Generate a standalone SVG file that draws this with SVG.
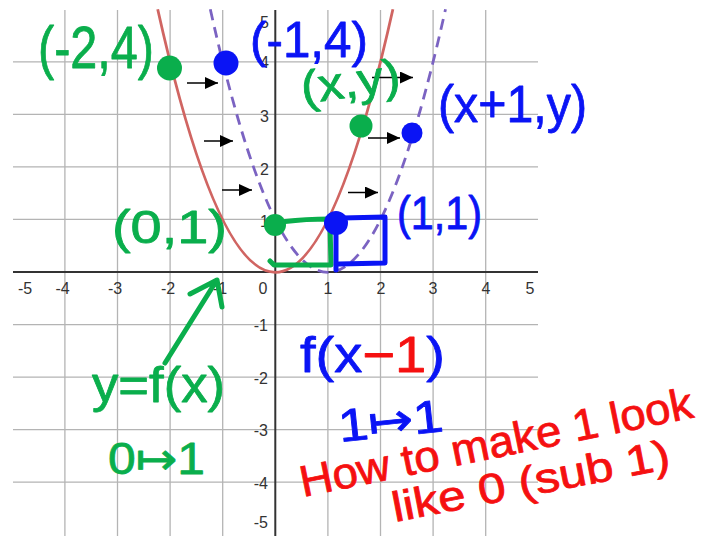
<svg xmlns="http://www.w3.org/2000/svg" width="710" height="536" viewBox="0 0 710 536">
<defs>
<style>
.grid{stroke:#b4b4b4;stroke-width:1.3;fill:none}
.axis{stroke:#333;stroke-width:2;fill:none}
.tick{font-family:"Liberation Sans",Arial,sans-serif;font-size:16px;fill:#333}
.ty{text-anchor:end}
.tx{text-anchor:middle}
.hw{font-family:"Liberation Sans","DejaVu Sans",sans-serif;stroke-width:0.8;stroke-linejoin:round}
.g{fill:#0aae4c;stroke:#0aae4c}
.b{fill:#0a14f5;stroke:#0a14f5}
.r{fill:#f51010;stroke:#f51010}
.pen{fill:none;stroke-width:5;stroke-linecap:round;stroke-linejoin:round}
.gs{stroke:#0aae4c}
.bs{stroke:#0a14f5}
.shift{stroke:#000;stroke-width:1.5;fill:none;marker-end:url(#ah)}
</style>
<marker id="ah" markerUnits="userSpaceOnUse" markerWidth="14" markerHeight="14" refX="13" refY="6" orient="auto">
<path d="M0,0 L13,6 L0,12 Z" fill="#000"/>
</marker>
</defs>
<rect width="710" height="536" fill="#fff"/>
<g id="grid">
<path class="grid" d="M64.9 10V536M117.5 10V536M170.1 10V536M222.7 10V536M327.9 10V536M380.5 10V536M433.1 10V536M485.7 10V536"/>
<path class="grid" d="M13 61.8H538M13 114.35H538M13 166.9H538M13 219.45H538M13 324.55H538M13 377.1H538M13 429.65H538M13 482.2H538"/>
</g>
<g id="axes">
<path class="axis" d="M13 272H538M275.3 10V536"/>
</g>
<g id="ticklabels" class="tick">
<text class="tx" x="25" y="294">-5</text>
<text class="tx" x="62.5" y="294">-4</text>
<text class="tx" x="115" y="294">-3</text>
<text class="tx" x="168" y="294">-2</text>
<text class="tx" x="220" y="294">-1</text>
<text class="tx" x="263" y="294">0</text>
<text class="tx" x="327.9" y="294">1</text>
<text class="tx" x="381" y="294">2</text>
<text class="tx" x="433" y="294">3</text>
<text class="tx" x="486" y="294">4</text>
<text class="tx" x="530" y="294">5</text>
<text class="ty" x="269" y="28">5</text>
<text class="ty" x="269" y="68">4</text>
<text class="ty" x="269" y="122">3</text>
<text class="ty" x="269" y="175">2</text>
<text class="ty" x="269" y="227">1</text>
<text class="ty" x="268" y="331">-1</text>
<text class="ty" x="268" y="384">-2</text>
<text class="ty" x="268" y="436">-3</text>
<text class="ty" x="268" y="489">-4</text>
<text class="ty" x="268" y="528">-5</text>
</g>
<g id="curve-f">
<path d="M157.7 9.3 Q275.3 535.3 392.9 9.3" fill="none" stroke="#d06562" stroke-width="2.8"/>
</g>
<g id="curve-shifted">
<path d="M210.3 9.3 Q327.9 535.3 445.5 9.3" fill="none" stroke="#7b63c2" stroke-width="2.8" stroke-dasharray="11 7"/>
</g>
<g id="connectors">
<path class="shift" d="M187 83H218"/>
<path class="shift" d="M204 141H233"/>
<path class="shift" d="M222 190H252"/>
<path class="shift" d="M372 77.5H413"/>
<path class="shift" d="M368 138H400"/>
<path class="shift" d="M348 192.5H378"/>
<path class="pen gs" d="M165 363L215 283M190 294L217 280L222 307"/>
</g>
<g id="boxes">
<path class="pen gs" d="M285 221.5Q305 219 330 219M330 224L331 265L274 265L270 261"/>
<path class="pen bs" d="M336 225L336 270M342 218L385 217L385 263L339 264"/>
</g>
<g id="points">
<circle id="p-m2-4" cx="169.5" cy="68" r="12.5" fill="#0aae4c"/>
<circle id="p-m1-4" cx="226" cy="63" r="12.5" fill="#0a14f5"/>
<circle id="p-xy" cx="361" cy="126" r="11.5" fill="#0aae4c"/>
<circle id="p-x1y" cx="412" cy="133" r="10.5" fill="#0a14f5"/>
<circle id="p-0-1" cx="275" cy="225" r="11" fill="#0aae4c"/>
<circle id="p-1-1" cx="336" cy="223" r="12" fill="#0a14f5"/>
</g>
<g id="labels">
<text class="hw g" x="38" y="68" font-size="60" textLength="116" lengthAdjust="spacingAndGlyphs">(-2,4)</text>
<text class="hw b" x="250" y="57" font-size="50" textLength="118" lengthAdjust="spacingAndGlyphs">(-1,4)</text>
<text class="hw g" x="303" y="104" font-size="46" textLength="100" lengthAdjust="spacingAndGlyphs" transform="rotate(-8 303 104)">(x,y)</text>
<text class="hw b" x="438" y="122" font-size="52" textLength="149" lengthAdjust="spacingAndGlyphs">(x+1,y)</text>
<text class="hw b" x="397" y="229" font-size="46" textLength="85" lengthAdjust="spacingAndGlyphs">(1,1)</text>
<text class="hw g" x="112" y="243" font-size="46" textLength="115" lengthAdjust="spacingAndGlyphs">(0,1)</text>
<text class="hw g" x="92" y="402" font-size="50" textLength="133" lengthAdjust="spacingAndGlyphs">y=f(x)</text>
<text class="hw g" x="108" y="474" font-size="44" textLength="97" lengthAdjust="spacingAndGlyphs">0↦1</text>
<text class="hw b" x="300" y="372" font-size="50" textLength="145" lengthAdjust="spacingAndGlyphs">f(x<tspan class="r">−1</tspan>)</text>
<text class="hw b" x="340" y="442" font-size="46" textLength="105" lengthAdjust="spacingAndGlyphs" transform="rotate(-6 340 442)">1↦1</text>
<text class="hw r" x="303" y="497" font-size="44" textLength="400" lengthAdjust="spacingAndGlyphs" transform="rotate(-11.5 303 497)">How to make 1 look</text>
<text class="hw r" x="395" y="522" font-size="42" textLength="282" lengthAdjust="spacingAndGlyphs" transform="rotate(-11 395 522)">like 0 (sub 1)</text>
</g>
</svg>
